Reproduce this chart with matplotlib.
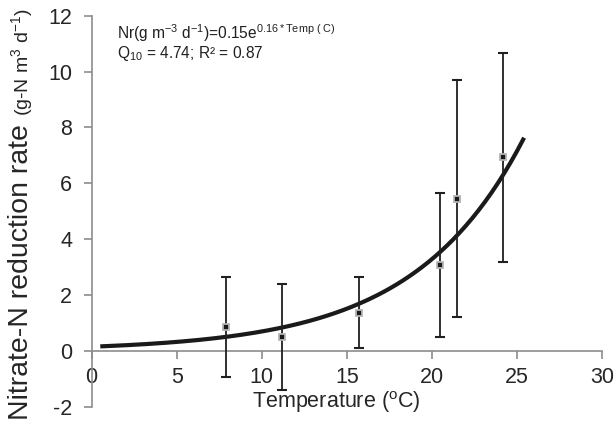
import numpy as np
import matplotlib.pyplot as plt

# data
temp = [7.9, 11.16, 15.7, 20.5, 21.47, 24.2]
rate = [0.85, 0.48, 1.36, 3.06, 5.45, 6.93]
rate_err = [1.8, 1.9, 1.27, 2.58, 4.25, 3.74]
x_ticks = [0, 5, 10, 15, 20, 25, 30]
y_ticks = [-2, 0, 2, 4, 6, 8, 10, 12]
curve_start, curve_end = 0.63, 25.36

plt.rcParams['font.family'] = ['Liberation Sans', 'DejaVu Sans']
plt.rcParams['mathtext.fontset'] = 'custom'
plt.rcParams['mathtext.rm'] = 'Liberation Sans'
plt.rcParams['mathtext.it'] = 'Liberation Sans:italic'
plt.rcParams['axes.unicode_minus'] = False

# exponential trendline (fit on log of the rates)
b, ln_a = np.polyfit(temp, np.log(rate), 1)
a = np.exp(ln_a)
t_fit = np.linspace(curve_start, curve_end, 200)
r_fit = a * np.exp(b * t_fit)

fig = plt.figure(figsize=(6.15, 4.24), dpi=100)
ax = fig.add_axes([0.149, 0.041, 0.83, 0.922])
grey = '#8c8c8c'
dark = '#231f20'

ax.plot(t_fit, r_fit, color='#1a1a1a', lw=3, zorder=2)
ax.errorbar(temp, rate, yerr=rate_err, fmt='none', ecolor=dark,
            elinewidth=1.3, capsize=3.5, capthick=1.5, zorder=3)
ax.plot(temp, rate, 's', ms=5, mfc='#1a1a1a', mec='#b5b5b5', mew=1.3, zorder=4)

ax.set_xlim(0, 30)
ax.set_ylim(-2, 12)
ax.set_xticks(x_ticks)
ax.set_yticks(y_ticks)
ax.spines['top'].set_visible(False)
ax.spines['right'].set_visible(False)
ax.spines['bottom'].set_position(('data', 0))
for s in ['left', 'bottom']:
    ax.spines[s].set_color(grey)
    ax.spines[s].set_linewidth(1.2)
ax.tick_params(axis='both', direction='out', length=6, width=1.2, color=grey,
               labelsize=15.5, labelcolor='#262626')
ax.tick_params(axis='y', pad=8)
ax.tick_params(axis='x', pad=6)

# equation box
ax.text(1.47, 11.17, r'Nr(g m$^{\mathregular{-3}}$ d$^{\mathregular{-1}}$)=0.15e$^{\mathregular{0.16*Temp\ (\ C)}}$',
        fontsize=11.2, va='baseline', color=dark)
ax.text(1.47, 10.49, r'Q$_{\mathregular{10}}$ = 4.74; R² = 0.87',
        fontsize=11.2, va='baseline', color=dark)

# axis labels
fig.text(336 / 615, 1 - 408.3 / 424, r'Temperature ($\mathregular{^o}$C)',
         fontsize=15.5, ha='center', va='baseline', color='#262626')
yl = fig.text(28 / 615, 1 - 420 / 424, 'Nitrate-N reduction rate ', fontsize=20.5,
              rotation=90, rotation_mode='anchor', ha='left', va='baseline', color='#262626')
ax.annotate(r'(g-N m$^{\mathregular{3}}$ d$^{\mathregular{-1}}$)', xy=(28 / 615, 1),
            xycoords=('figure fraction', yl), fontsize=14, rotation=90,
            rotation_mode='anchor', ha='left', va='baseline', color='#262626',
            annotation_clip=False)

fig.savefig('out.png', dpi=100)
